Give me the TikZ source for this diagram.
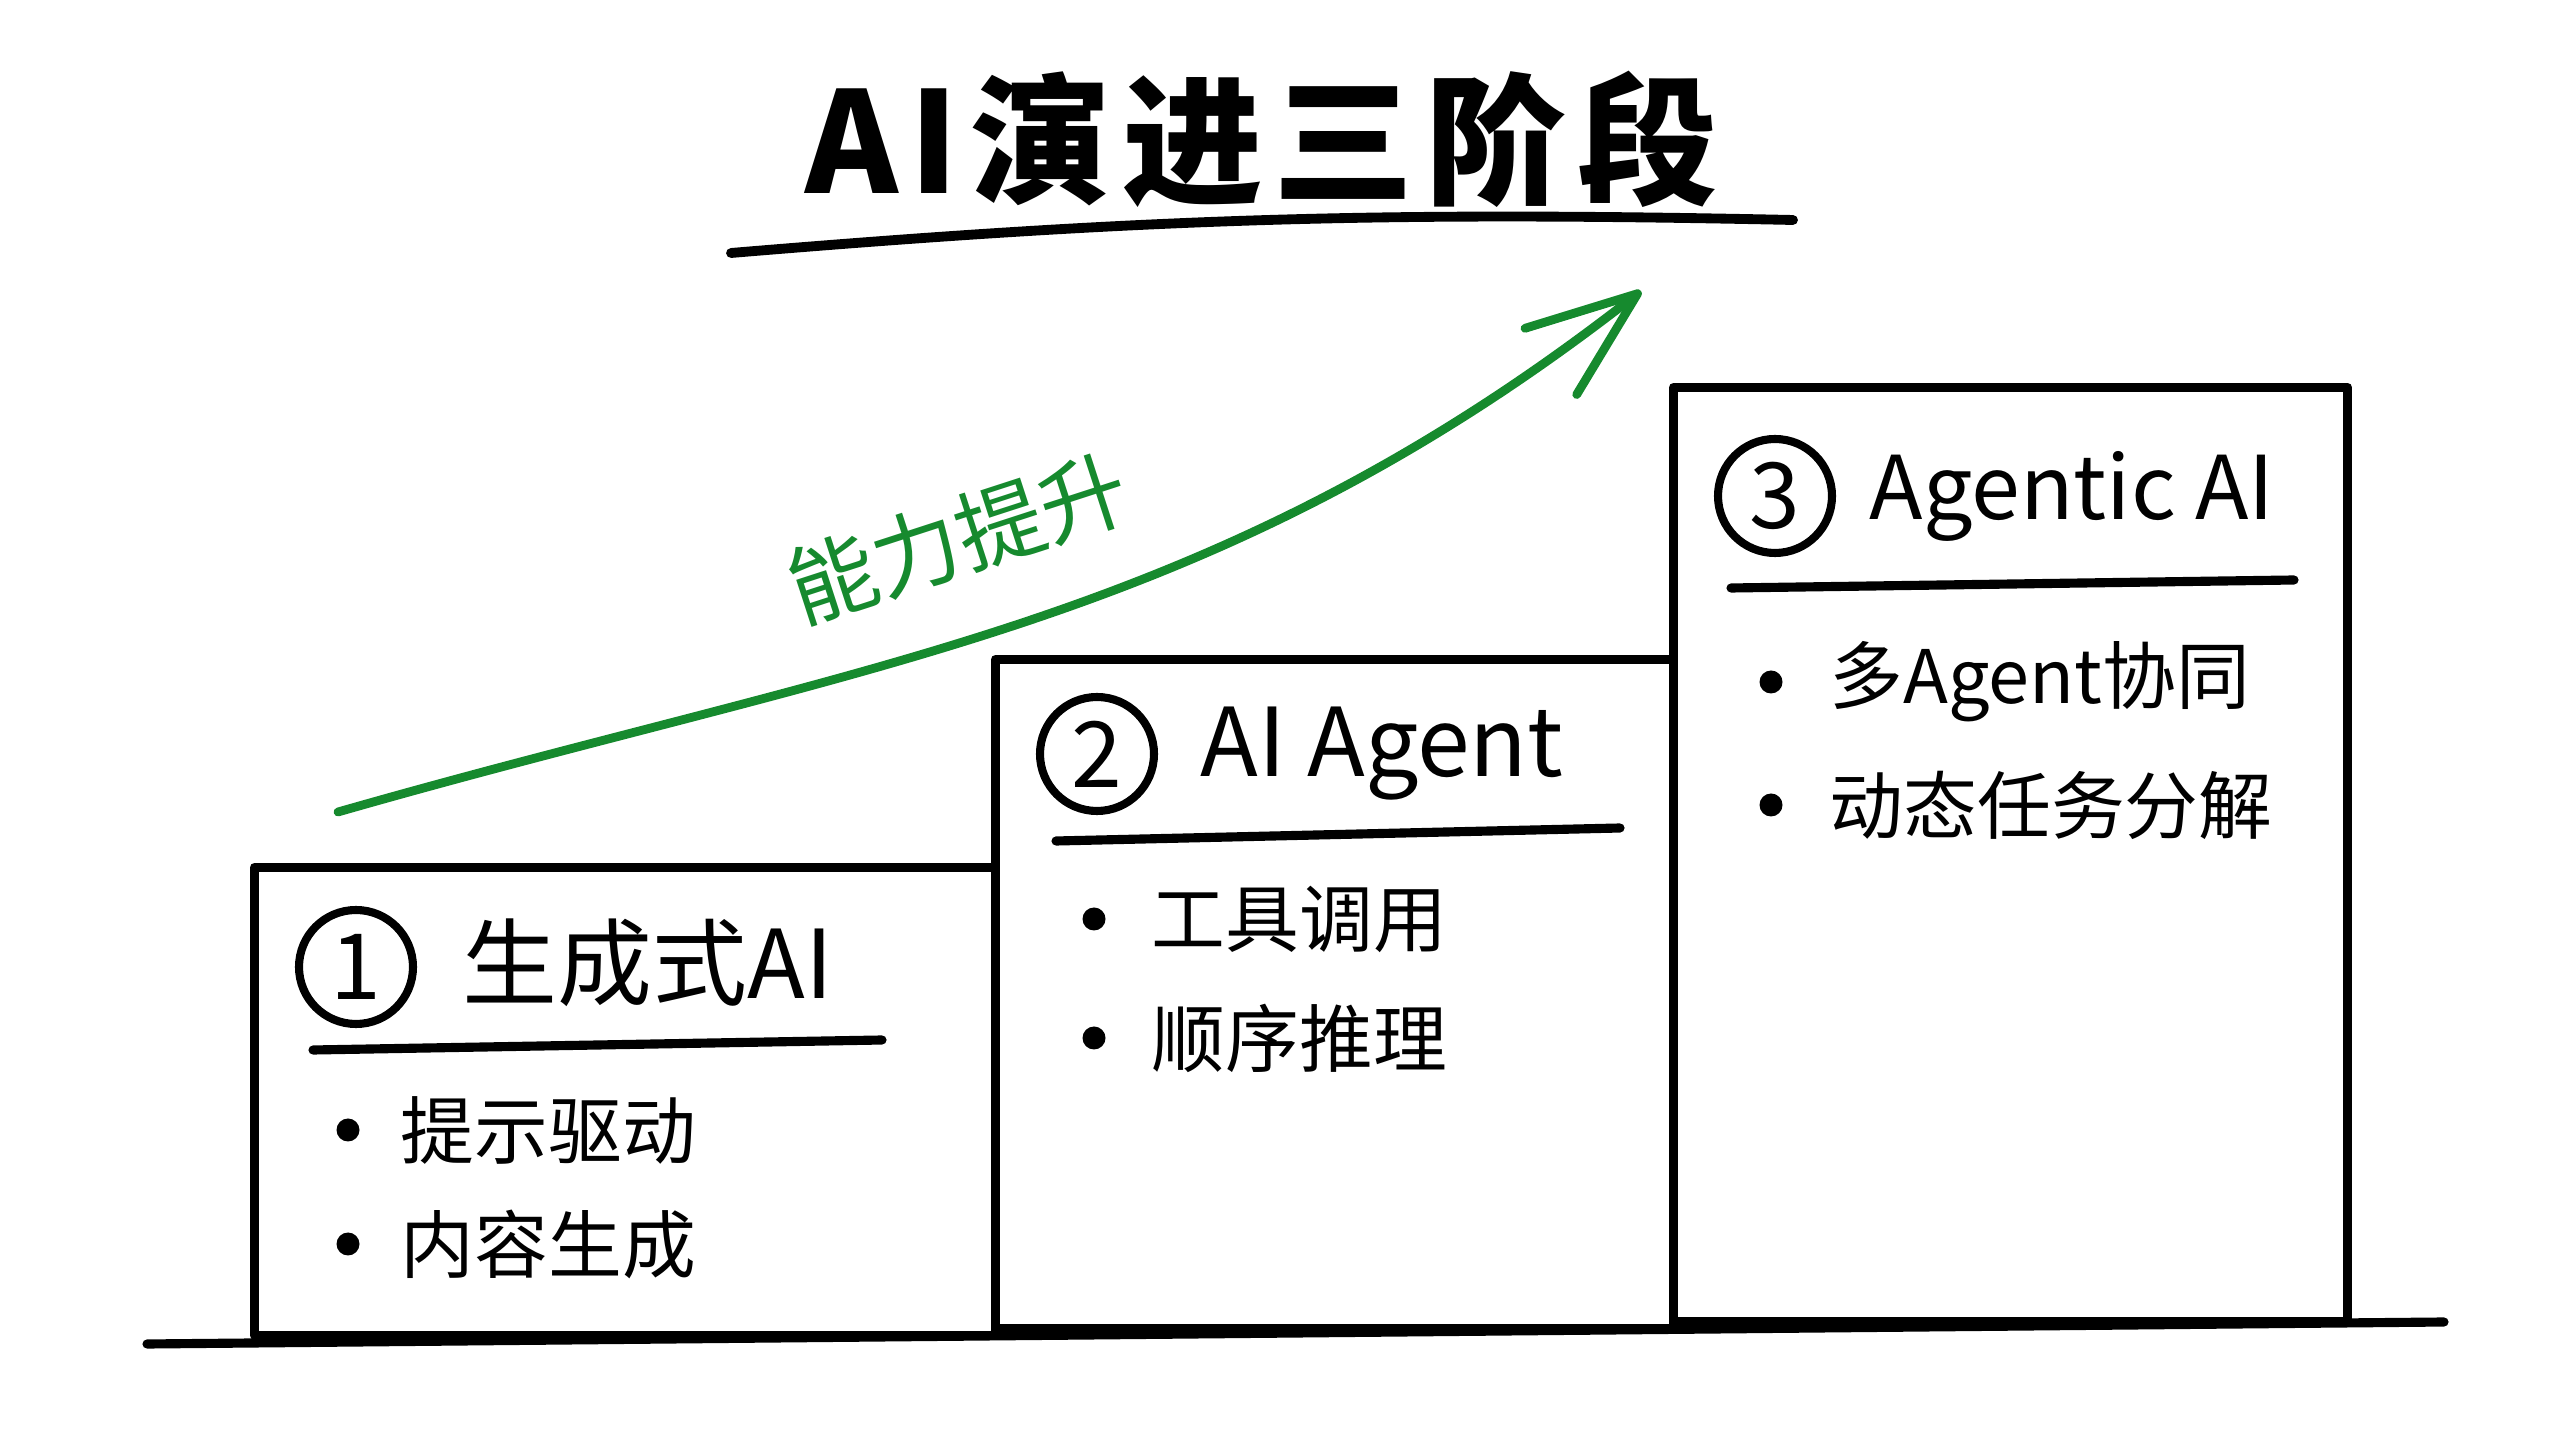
\documentclass[tikz,border=0pt]{standalone}
\usepackage{fontspec}
\setmainfont{Noto Sans CJK SC}
\newfontfamily\titlefont[LetterSpace=8]{Noto Sans CJK SC}
\usetikzlibrary{positioning,arrows.meta}
\definecolor{riseg}{RGB}{22,138,46}

\begin{document}
\begin{tikzpicture}[line cap=round,line join=round]
    \tikzset{stage/.style={draw,line width=2.6pt,anchor=south west,inner sep=0pt},
             num/.style={circle,draw,line width=2.3pt,minimum size=1.14cm,inner sep=0pt,font=\fontsize{26}{26}\selectfont},
             head/.style={anchor=west,inner sep=0pt,font=\fontsize{27}{27}\selectfont},
             dot/.style={circle,fill,inner sep=0pt,minimum size=0.23cm},
             item/.style={anchor=west,inner sep=0pt,font=\fontsize{21}{21}\selectfont},
             ul/.style={line width=2.6pt}}
    \useasboundingbox (0,0) rectangle (25.6,14.4);
    % title
    \node[font=\titlefont\bfseries\fontsize{40}{40}\selectfont] (title) at (12.62,13.01) {AI演进三阶段};
    \draw[line width=2.8pt] (7.31,11.87) to[bend left=3] (17.93,12.20);
    % ground and steps
    \draw[line width=2.6pt] (1.47,0.96) -- (24.44,1.18);
    \node[stage,minimum width=7.41cm,minimum height=4.68cm] (s1) at (2.50,1.00) {};
    \node[stage,minimum width=6.78cm,minimum height=6.69cm] (s2) at (9.91,1.07) {};
    \node[stage,minimum width=6.74cm,minimum height=9.34cm] (s3) at (16.69,1.14) {};
    % step 1
    \node[num] (n1) at (3.56,4.73) {1};
    \node[head] (h1) at (4.62,4.77) {生成式AI};
    \draw[ul] (3.13,3.90) -- (8.82,4.00);
    \foreach \y/\t [count=\i] in {3.10/提示驱动,1.96/内容生成}
      {\node[dot] (d1\i) at (3.48,\y) {}; \node[item] (t1\i) at (4.00,\y) {\t};}
    % step 2
    \node[num] (n2) at (10.97,6.86) {2};
    \node[head] (h2) at (12.00,6.86) {AI Agent};
    \draw[ul] (10.56,5.99) -- (16.20,6.12);
    \foreach \y/\t [count=\i] in {5.21/工具调用,4.02/顺序推理}
      {\node[dot] (d2\i) at (10.94,\y) {}; \node[item] (t2\i) at (11.51,\y) {\t};}
    % step 3
    \node[num] (n3) at (17.75,9.44) {3};
    \node[head,font=\fontsize{25}{25}\selectfont] (h3) at (18.69,9.44) {Agentic AI};
    \draw[ul] (17.31,8.52) -- (22.94,8.60);
    \foreach \y/\t [count=\i] in {7.58/多Agent协同,6.35/动态任务分解}
      {\node[dot] (d3\i) at (17.71,\y) {}; \node[item] (t3\i) at (18.29,\y) {\t};}
    % rising arrow
    \coordinate (a0) at (3.38,6.28);
    \coordinate (a1) at (16.41,11.49);
    \draw[riseg,line width=2.5pt,-{Straight Barb[length=11mm,width=8.4mm,round]}] (a0) to[out=16,in=218] (a1);
    \node[riseg,rotate=18,font=\fontsize{25}{25}\selectfont] (lift) at (9.58,9.02) {能力提升};
\end{tikzpicture}
\end{document}
